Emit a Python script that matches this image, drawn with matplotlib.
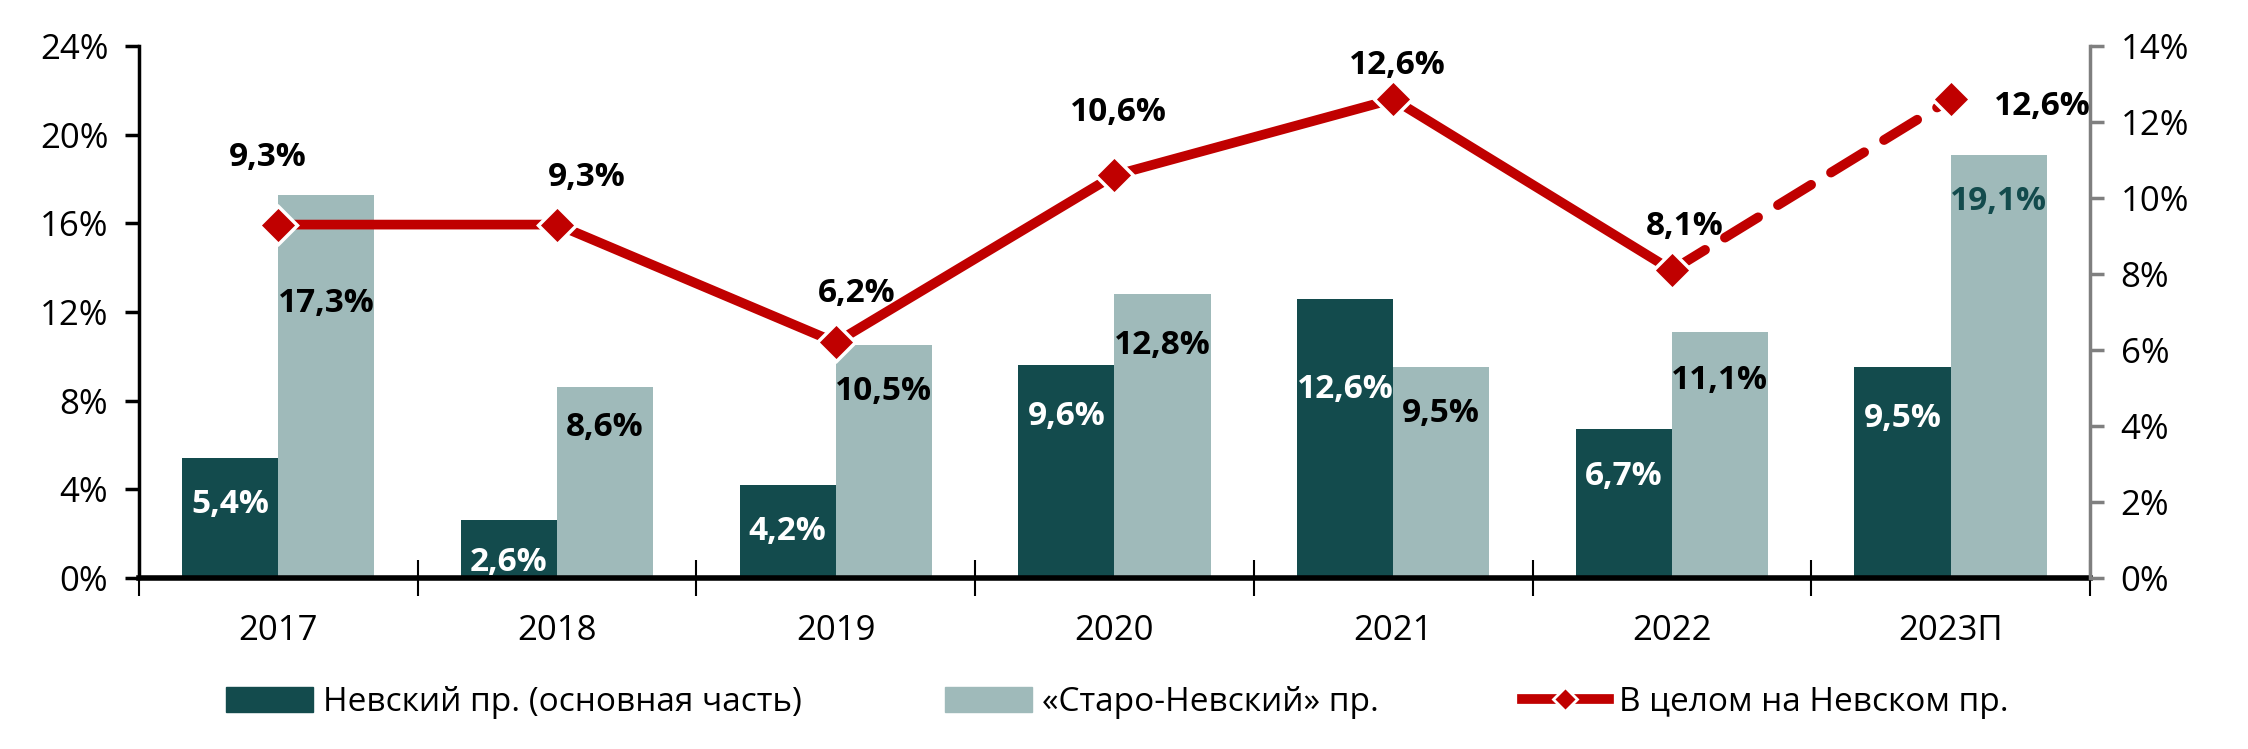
import numpy as np
import matplotlib.pyplot as plt
from matplotlib.lines import Line2D
from matplotlib.patches import Patch

plt.rcParams['font.family'] = ['Open Sans', 'DejaVu Sans']

years = ['2017', '2018', '2019', '2020', '2021', '2022', '2023П']
nevsky_main = [5.4, 2.6, 4.2, 9.6, 12.6, 6.7, 9.5]
staro_nevsky = [17.3, 8.6, 10.5, 12.8, 9.5, 11.1, 19.1]
total = [9.3, 9.3, 6.2, 10.6, 12.6, 8.1, 12.6]

dark = '#134b4d'
light = '#9fbaba'
red = '#c00000'

fig = plt.figure(figsize=(22.48, 7.49), dpi=100)
ax = fig.add_axes([0.0618, 0.2283, 0.8679, 0.7103])
ax2 = ax.twinx()

x = np.arange(len(years))
w = 0.345
ax.bar(x - w / 2, nevsky_main, w, color=dark, zorder=2)
ax.bar(x + w / 2, staro_nevsky, w, color=light, zorder=2)

ax.set_xlim(-0.5, 6.5)
ax.set_ylim(0, 24)
ax.set_yticks(np.arange(0, 25, 4))
ax.set_yticklabels([f'{v}%' for v in range(0, 25, 4)])
ax.set_xticks(x)
ax.set_xticklabels(years)
ax.set_xticks(np.arange(-0.5, 7, 1), minor=True)
ax.tick_params(axis='x', which='major', length=0, pad=26, labelsize=25)
ax.tick_params(axis='x', which='minor', direction='inout', length=26, width=1.5, color='black')
ax.tick_params(axis='y', length=10, width=2.5, labelsize=25, pad=12)
ax.spines['top'].set_visible(False)
ax.spines['right'].set_visible(False)
ax.spines['left'].set_linewidth(2.5)
ax.spines['bottom'].set_linewidth(4)
ax.spines['bottom'].set_zorder(5)

# bar labels
dark_off = [2.1, 1.9, 2.1, 2.3, 4.1, 2.1, 2.3]
light_off = [4.9, 1.8, 2.1, 2.3, 2.1, 2.2, 2.1]
for i in range(len(years)):
    ax.text(x[i] - w / 2, nevsky_main[i] - dark_off[i], f'{nevsky_main[i]:.1f}%'.replace('.', ','),
            ha='center', va='center', color='white', fontsize=24, fontweight='bold', zorder=6)
    c = dark if i == 6 else 'black'
    ax.text(x[i] + w / 2, staro_nevsky[i] - light_off[i], f'{staro_nevsky[i]:.1f}%'.replace('.', ','),
            ha='center', va='center', color=c, fontsize=24, fontweight='bold', zorder=6)

# line on secondary axis
ax2.set_ylim(0, 14)
ax2.set_yticks(np.arange(0, 15, 2))
ax2.set_yticklabels([f'{v}%' for v in range(0, 15, 2)])
ax2.tick_params(axis='y', length=10, width=2.5, color='#7f7f7f', labelsize=25, pad=12)
for s in ['top', 'left', 'bottom']:
    ax2.spines[s].set_visible(False)
ax2.spines['right'].set_color('#7f7f7f')
ax2.spines['right'].set_linewidth(2.5)

ax2.plot(x[:6], total[:6], color=red, lw=7, solid_capstyle='butt', zorder=3)
ax2.plot(x[5:], total[5:], color=red, lw=7, dashes=(4, 2.4), dash_capstyle='round', zorder=3)
ax2.plot(x, total, ls='none', marker='D', ms=19, mfc=red, mec='white', mew=2.5, zorder=4)

offs = [(-11, 67), (30, 47), (21, 49), (4, 63), (4, 34), (13, 44), (92, -7)]
for i in range(len(years)):
    ax2.annotate(f'{total[i]:.1f}%'.replace('.', ','), (x[i], total[i]), xytext=offs[i],
                 textcoords='offset pixels', ha='center', va='center',
                 fontsize=24, fontweight='bold', color='black', zorder=6)

handles = [Patch(color=dark), Patch(color=light),
           Line2D([], [], color=red, lw=7, marker='D', ms=12, mfc=red, mec='white', mew=2)]
labels = ['Невский пр. (основная часть)', '«Старо-Невский» пр.', 'В целом на Невском пр.']
fig.legend(handles, labels, loc='lower center', bbox_to_anchor=(0.497, 0.0), ncol=3,
           frameon=False, fontsize=24, handlelength=2.6, handleheight=0.8,
           handletextpad=0.3, columnspacing=4.3)

fig.savefig('out.png', dpi=100)
